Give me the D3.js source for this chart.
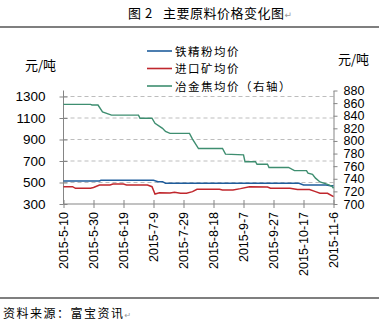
<!DOCTYPE html>
<html><head><meta charset="utf-8">
<script src="https://cdn.jsdelivr.net/npm/d3@7/dist/d3.min.js"></script>
<style>body{margin:0;background:#fff}svg{display:block}</style>
</head><body><svg id="c" width="379" height="327"></svg>
<script>
// ---- data ----
const xTickLabels = ["2015-5-10","2015-5-30","2015-6-19","2015-7-9","2015-7-29","2015-8-18","2015-9-7","2015-9-27","2015-10-17","2015-11-6"];
const leftTicks = [300,500,700,900,1100,1300];
const rightTicks = [700,720,740,760,780,800,820,840,860,880];

const blueDates = ["2015-05-10","2015-06-03","2015-06-04","2015-07-09","2015-07-12","2015-07-15","2015-07-17","2015-10-14","2015-10-17","2015-11-01","2015-11-04","2015-11-06"];
const blueValues = [514,514,521,521,508,508,493,493,477,477,470,470];

const redDates = ["2015-05-10","2015-05-16","2015-05-18","2015-05-28","2015-05-30","2015-06-03","2015-06-10","2015-06-12","2015-06-19","2015-06-21","2015-07-05","2015-07-08","2015-07-10","2015-07-13","2015-07-20","2015-07-23","2015-07-27","2015-07-31","2015-08-04","2015-08-07","2015-08-22","2015-08-24","2015-08-31","2015-09-05","2015-09-11","2015-09-23","2015-09-25","2015-10-08","2015-10-13","2015-10-21","2015-10-25","2015-10-28","2015-11-02","2015-11-06"];
const redValues = [461,461,446,446,454,477,477,486,486,477,477,461,393,405,402,409,400,401,415,437,437,430,430,443,461,458,446,446,434,434,415,400,400,368];

const greenDates = ["2015-05-10","2015-05-28","2015-05-29","2015-06-02","2015-06-05","2015-06-11","2015-06-29","2015-06-30","2015-07-08","2015-07-10","2015-07-15","2015-07-17","2015-07-20","2015-08-02","2015-08-04","2015-08-08","2015-08-24","2015-08-26","2015-09-07","2015-09-08","2015-09-15","2015-09-16","2015-09-23","2015-09-24","2015-10-07","2015-10-11","2015-10-19","2015-10-20","2015-10-23","2015-10-25","2015-10-28","2015-11-02","2015-11-05","2015-11-06"];
const greenValues = [858,858,857,857,846,841,841,836,836,828,820,815,812,812,803,788,788,779,778,767,767,763,763,758,758,753,753,749,747,741,735,731,728,725];

const seriesNames = ["铁精粉均价","进口矿均价","冶金焦均价（右轴）"];
const seriesColors = ["#1f5d9c","#c0272d","#3e8e70"];

// ---- drawing ----
const parse = d3.timeParse("%Y-%m-%d");
const svg = d3.select("#c");
const cjk = "'Noto Sans CJK SC', sans-serif";
const num = "'Liberation Sans', Arial, sans-serif";
const axisColor = "#858585";

const x0 = 63.5, x1 = 333.5, yTop = 90.5, yBot = 204;
const xs = d3.scaleTime().domain([parse("2015-05-10"), parse("2015-11-06")]).range([x0, x1]);
const yL = d3.scaleLinear().domain([300,1300]).range([yBot, 96.5]);
const yR = d3.scaleLinear().domain([700,880]).range([yBot, yTop]);

// title
const t = svg.append("text").attr("y",18).attr("font-family",cjk).attr("font-size",13).attr("fill","#000");
t.append("tspan").attr("x",128).text("图");
t.append("tspan").attr("x",145).text("2");
t.append("tspan").attr("x",163).attr("letter-spacing","0.5").text("主要原料价格变化图");
t.append("tspan").attr("font-family","'DejaVu Sans'").attr("font-size",9).attr("fill","#999").text("↵");
svg.append("line").attr("x1",0).attr("x2",379).attr("y1",27).attr("y2",27).attr("stroke","#000").attr("stroke-width",1.2);
svg.append("line").attr("x1",0).attr("x2",379).attr("y1",298).attr("y2",298).attr("stroke","#000").attr("stroke-width",1.2);
const f = svg.append("text").attr("x",3).attr("y",318).attr("font-family",cjk).attr("font-size",12).attr("letter-spacing","1.5").attr("fill","#000");
f.append("tspan").text("资料来源：富宝资讯");
f.append("tspan").attr("font-family","'DejaVu Sans'").attr("font-size",8).attr("fill","#999").text("↵");

// unit labels
svg.append("text").attr("x",25).attr("y",70).attr("font-family",cjk).attr("font-size",13).text("元/吨");
svg.append("text").attr("x",338).attr("y",64).attr("font-family",cjk).attr("font-size",13).text("元/吨");

// gridlines
svg.append("g").selectAll("line").data(leftTicks.filter(d=>d>300)).join("line")
  .attr("x1",x0).attr("x2",x1).attr("y1",d=>yL(d)).attr("y2",d=>yL(d))
  .attr("stroke","#bdbdbd").attr("stroke-dasharray","4,3").attr("stroke-width",1);

// axes
function styleAxis(g){ g.select(".domain").attr("stroke",axisColor); g.selectAll(".tick line").attr("stroke",axisColor); }
const gL = svg.append("g").attr("transform",`translate(${x0},0)`)
  .call(d3.axisLeft(yL).tickValues(leftTicks).tickFormat(d3.format("d")).tickSize(4).tickSizeOuter(0).tickPadding(14));
gL.select(".domain").attr("d",`M0,${yTop}V${yBot}`);
gL.selectAll("text").attr("font-family",num).attr("font-size",13.5).attr("fill","#000");
styleAxis(gL);
gL.selectAll(".tick").append("line").attr("x2",4).attr("stroke",axisColor);

const gR = svg.append("g").attr("transform",`translate(${x1},0)`)
  .call(d3.axisRight(yR).tickValues(rightTicks).tickSize(4).tickSizeOuter(0).tickPadding(6));
gR.selectAll("text").attr("font-family",num).attr("font-size",12.5).attr("fill","#000");
styleAxis(gR);

const xTickDates = xTickLabels.map(s=>{const p=s.split("-"); return new Date(+p[0],+p[1]-1,+p[2]);});
const gX = svg.append("g").attr("transform",`translate(0,${yBot})`)
  .call(d3.axisBottom(xs).tickValues(xTickDates).tickFormat((d,i)=>xTickLabels[i]).tickSize(4).tickSizeOuter(0));
gX.select(".domain").attr("d",`M${x0},0H${x1}`);
styleAxis(gX);
gX.selectAll(".tick").append("line").attr("y2",-4).attr("stroke",axisColor);
gX.selectAll("text").attr("font-family",num).attr("font-size",12.5).attr("fill","#000")
  .attr("transform","rotate(-90)").attr("text-anchor","end").attr("x",-8).attr("y",0).attr("dy","0.35em");

// lines
const mk = (dates, vals) => dates.map((d,i)=>({d:parse(d), v:vals[i]}));
const lineL = d3.line().x(p=>xs(p.d)).y(p=>yL(p.v));
const lineR = d3.line().x(p=>xs(p.d)).y(p=>yR(p.v));
svg.append("path").attr("d",lineL(mk(blueDates,blueValues))).attr("fill","none").attr("stroke",seriesColors[0]).attr("stroke-width",1.5);
svg.append("path").attr("d",lineL(mk(redDates,redValues))).attr("fill","none").attr("stroke",seriesColors[1]).attr("stroke-width",1.5);
svg.append("path").attr("d",lineR(mk(greenDates,greenValues))).attr("fill","none").attr("stroke",seriesColors[2]).attr("stroke-width",1.4);

// legend
const legY = [51,68.5,86];
const lg = svg.append("g");
seriesNames.forEach((n,i)=>{
  lg.append("line").attr("x1",147).attr("x2",172).attr("y1",legY[i]).attr("y2",legY[i]).attr("stroke",seriesColors[i]).attr("stroke-width",1.6);
  lg.append("text").attr("x",175).attr("y",legY[i]+4.5).attr("font-family",cjk).attr("font-size",11.5).attr("letter-spacing","1.5").attr("fill","#000").text(n);
});
</script></body></html>
